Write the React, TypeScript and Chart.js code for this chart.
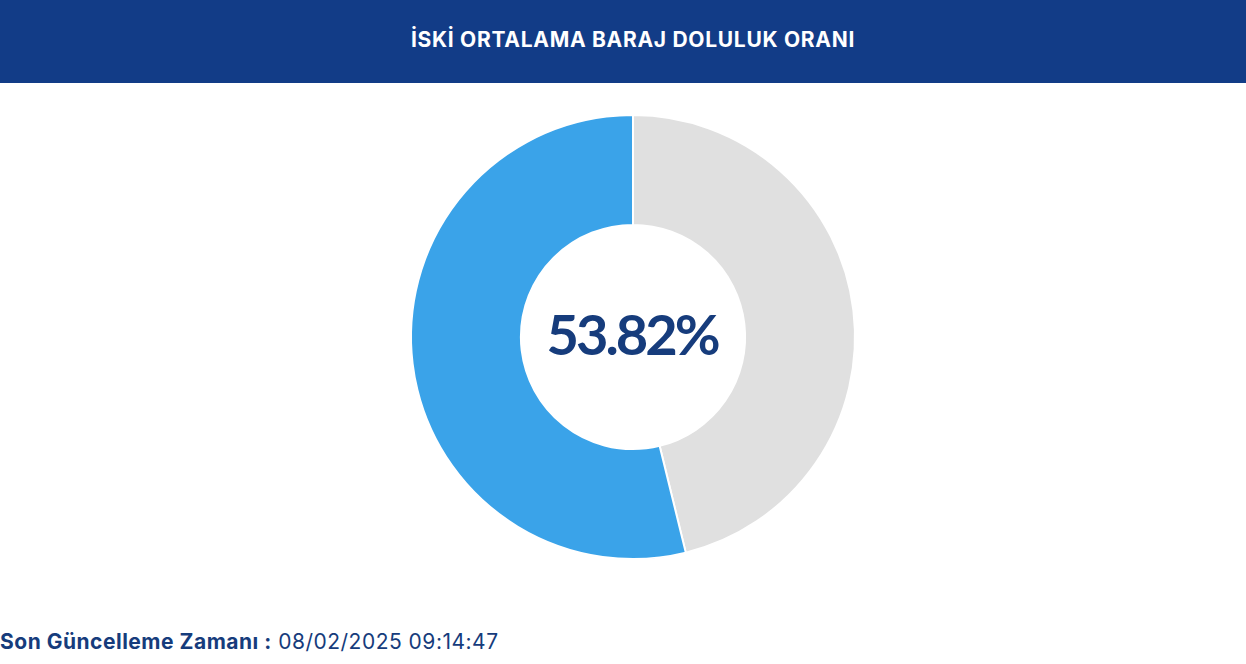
import React, { useEffect, useRef } from "react";
import { Chart, registerables } from "chart.js";

Chart.register(...registerables);

const TITLE = "İSKİ ORTALAMA BARAJ DOLULUK ORANI";
const SEGMENT_LABELS = ["Boş", "Dolu"];
const SEGMENT_VALUES = [46.18, 53.82];
const SEGMENT_COLORS = ["#e0e0e0", "#3aa3e9"];
const CENTER_TEXT = "53.82%";
const FOOTER_LABEL = "Son Güncelleme Zamanı :";
const FOOTER_VALUE = "08/02/2025 09:14:47";

const FONT = "Inter, 'Open Sans', sans-serif";
const CENTER_FONT = "Lato, 'Open Sans', sans-serif";

export default function App() {
  const canvasRef = useRef<HTMLCanvasElement | null>(null);

  useEffect(() => {
    document.body.style.margin = "0";
    const canvas = canvasRef.current;
    if (!canvas) return;
    const centerText = {
      id: "centerText",
      afterDraw(chart: any) {
        const meta = chart.getDatasetMeta(0);
        const arc = meta.data[0];
        if (!arc) return;
        const { x, y } = arc;
        const ctx = chart.ctx;
        ctx.save();
        ctx.fillStyle = "#163c7c";
        ctx.font = `bold 56px ${CENTER_FONT}`;
        (ctx as any).letterSpacing = "-3px";
        ctx.textAlign = "center";
        ctx.textBaseline = "middle";
        ctx.fillText(CENTER_TEXT, x - 1, y);
        ctx.restore();
      },
    };
    const chart = new Chart(canvas, {
      type: "doughnut",
      data: {
        labels: SEGMENT_LABELS,
        datasets: [
          {
            data: SEGMENT_VALUES,
            backgroundColor: SEGMENT_COLORS,
            borderColor: "#ffffff",
            borderWidth: 2,
          },
        ],
      },
      options: {
        responsive: false,
        animation: false,
        cutout: "50.5%",
        layout: { padding: 31 },
        plugins: {
          legend: { display: false },
          tooltip: { enabled: false },
        },
      },
      plugins: [centerText],
    });
    return () => chart.destroy();
  }, []);

  return (
    <div
      style={{
        position: "fixed",
        left: 0,
        top: 0,
        width: 1246,
        height: 664,
        background: "#ffffff",
        overflow: "hidden",
        fontFamily: FONT,
      }}
    >
      <div
        style={{
          position: "absolute",
          left: 0,
          top: 0,
          width: 1246,
          height: 83,
          background: "#123c87",
          color: "#ffffff",
          fontWeight: 700,
          fontSize: 21,
          letterSpacing: 0.7,
          display: "flex",
          alignItems: "center",
          justifyContent: "center",
          paddingLeft: 20,
          paddingBottom: 4,
          boxSizing: "border-box",
        }}
      >
        {TITLE}
      </div>
      <canvas
        ref={canvasRef}
        width={1226}
        height={508}
        style={{ position: "absolute", left: 20, top: 83, width: 1226, height: 508 }}
      />
      <div
        style={{
          position: "absolute",
          left: 0,
          top: 629,
          fontSize: 21,
          letterSpacing: 0.5,
          color: "#163c7c",
          whiteSpace: "nowrap",
        }}
      >
        <span style={{ fontWeight: 700 }}>{FOOTER_LABEL}</span>{" "}
        <span>{FOOTER_VALUE}</span>
      </div>
    </div>
  );
}
